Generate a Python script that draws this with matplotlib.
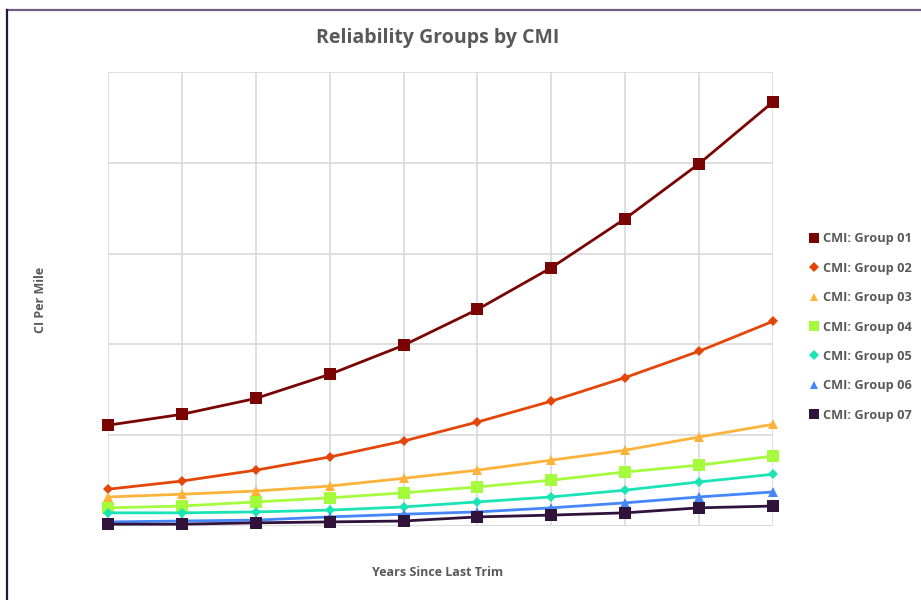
import matplotlib
matplotlib.use("Agg")
import matplotlib.pyplot as plt
from matplotlib.lines import Line2D

years = list(range(10))
groups = ["CMI: Group 01", "CMI: Group 02", "CMI: Group 03", "CMI: Group 04",
          "CMI: Group 05", "CMI: Group 06", "CMI: Group 07"]

group_01 = [22.2, 24.6, 28.1, 33.4, 39.8, 47.7, 56.9, 67.7, 79.8, 93.4]
group_02 = [8.1, 9.9, 12.3, 15.2, 18.7, 22.9, 27.5, 32.7, 38.5, 45.1]
group_03 = [6.4, 7.0, 7.7, 8.8, 10.5, 12.3, 14.5, 16.7, 19.6, 22.4]
group_04 = [4.0, 4.4, 5.3, 6.2, 7.3, 8.6, 10.1, 11.9, 13.4, 15.4]
group_05 = [2.9, 2.9, 3.1, 3.5, 4.2, 5.3, 6.4, 7.9, 9.7, 11.4]
group_06 = [0.9, 1.1, 1.3, 2.0, 2.6, 3.1, 4.0, 5.1, 6.4, 7.5]
group_07 = [0.4, 0.4, 0.7, 0.9, 1.1, 2.0, 2.4, 2.9, 4.0, 4.4]

series = [group_01, group_02, group_03, group_04, group_05, group_06, group_07]
colors = ["#7A0403", "#E4460A", "#FDB33A", "#A4FC3C", "#1AE4B6", "#4686FB", "#30123B"]
markers = ["s", "D", "^", "s", "D", "^", "s"]
msizes = [8, 5.5, 7, 8, 5.5, 7, 8]

fig = plt.figure(figsize=(9.21, 6.0), dpi=100)
ax = fig.add_axes([108 / 921, 1 - 526 / 600, (773 - 108) / 921, (526 - 72) / 600])

for vals, name, c, m, ms in zip(series, groups, colors, markers, msizes):
    ax.plot(years, vals, color=c, marker=m, markersize=ms, linewidth=2.0,
            markeredgewidth=0, label=name, clip_on=False, zorder=3)

ax.set_xlim(0, 9)
ax.set_ylim(0, 100)
ax.set_xticks(years)
ax.set_yticks([0, 20, 40, 60, 80, 100])
ax.grid(True, color="#D9D9D9", linewidth=1.2)
ax.tick_params(length=0, labelleft=False, labelbottom=False)
for s in ax.spines.values():
    s.set_visible(False)
ax.axhline(0, color="#D9D9D9", linewidth=1.2, zorder=1)

text_color = "#595959"
fig.text(438 / 921, 1 - 38 / 600, "Reliability Groups by CMI", ha="center", va="center",
         fontsize=14, fontweight="bold", color=text_color, family="Open Sans")
fig.text(438 / 921, 1 - 573 / 600, "Years Since Last Trim", ha="center", va="center",
         fontsize=9, fontweight="bold", color=text_color, family="Open Sans")
fig.text(40 / 921, 1 - 300 / 600, "CI Per Mile", ha="center", va="center", rotation=90,
         fontsize=9, fontweight="bold", color=text_color, family="Open Sans")

handles = [Line2D([], [], linestyle="none", marker=m, color=c, markersize=ms * 0.85,
                  markeredgewidth=0) for c, m, ms in zip(colors, markers, msizes)]
leg = fig.legend(handles, groups, loc="center left", bbox_to_anchor=(797 / 921, 1 - 327 / 600),
                 frameon=False, handlelength=0.8, handletextpad=0.3, labelspacing=1.28,
                 prop={"family": "Open Sans", "weight": "bold", "size": 9.2})
for t in leg.get_texts():
    t.set_color(text_color)

# outer chart border (top and left edges)
fig.add_artist(Line2D([7 / 921, 1], [1 - 10 / 600, 1 - 10 / 600], color="#6E5F80",
                      linewidth=1.6, transform=fig.transFigure))
fig.add_artist(Line2D([7 / 921, 7 / 921], [0, 1 - 10 / 600], color="#2E1539",
                      linewidth=1.6, transform=fig.transFigure))

fig.savefig("out.png", dpi=100)
